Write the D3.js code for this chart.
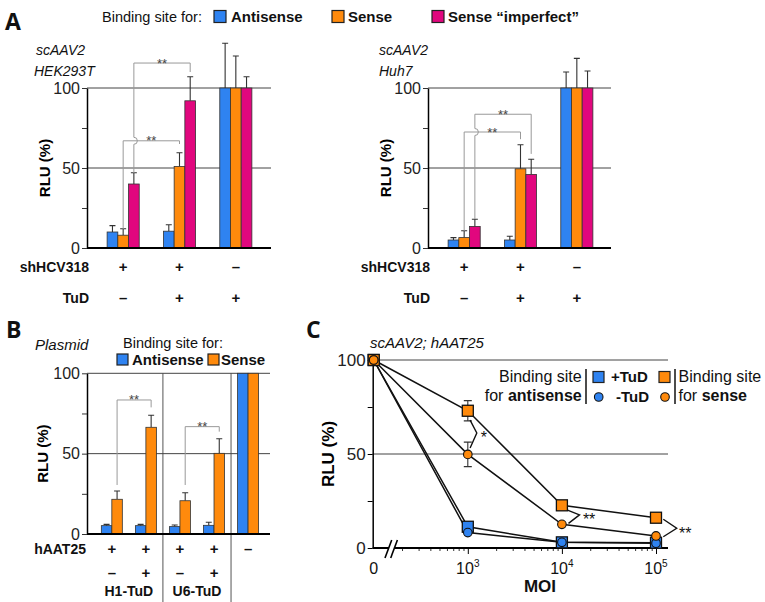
<!DOCTYPE html>
<html>
<head>
<meta charset="utf-8">
<script src="https://cdn.jsdelivr.net/npm/d3@7"></script>
<style>
  body { margin: 0; background: #fff; }
  svg { font-family: "Liberation Sans", Arial, sans-serif; }
</style>
</head>
<body>
<svg id="chart" width="765" height="602" font-family="Liberation Sans, Arial, sans-serif"></svg>
<script>
// ---------- data ----------
// panel A (scAAV2), three groups of three bars
const seriesA = ["Antisense", "Sense", "Sense \u201cimperfect\u201d"];
const groupsA = ["sh+ TuD-", "sh+ TuD+", "sh- TuD+"];
const shHCV318 = ["+", "+", "\u2013"];
const tudA = ["\u2013", "+", "+"];
const hekValues = [[10, 8, 40], [10.5, 51, 92], [100, 100, 100]];
const hekErrors = [[4, 4, 7], [4, 8.5, 15], [28, 20, 7]];
const huhValues = [[5, 6.5, 13.5], [5, 49.5, 46], [100, 100, 100]];
const huhErrors = [[1.5, 4.3, 4.5], [2.3, 15, 9.5], [10, 18.5, 10.6]];

// panel B (plasmid)
const seriesB = ["Antisense", "Sense"];
const groupsB = ["H1 -", "H1 +", "U6 -", "U6 +", "none"];
const hAAT25 = ["+", "+", "+", "+", "\u2013"];
const tudB = ["\u2013", "+", "\u2013", "+", ""];
const promoters = ["H1-TuD", "U6-TuD"];
const plasmidValues = [[5.2, 21.6], [5.2, 66.4], [4.6, 20.7], [5.4, 50.2], [100, 100]];
const plasmidErrors = [[0.8, 5.2], [0.8, 7.5], [1, 5], [1.9, 9.1], [0, 0]];

// panel C (MOI series)
const moi = [0, 1e3, 1e4, 1e5];
const antisensePlusTuD = [100, 11.3, 3, 2.8];
const antisenseMinusTuD = [100, 8.2, 3, 2.5];
const sensePlusTuD = [100, 73, 22.7, 16.1];
const senseMinusTuD = [100, 49.8, 12.6, 6.4];
const sensePlusErr = [0, 5.4, 0, 0];
const senseMinusErr = [0, 6.5, 0, 0];

const yTicks = [0, 25, 50, 75, 100];

// ---------- styles ----------
const blue = "#2f83f1", orange = "#ff8a0c", magenta = "#e1077e";
const barColors = [blue, orange, magenta];
const FONT = '"Liberation Sans", Arial, sans-serif';
const svg = d3.select("#chart");

function txt(x, y, s, opt = {}) {
  return svg.append("text").attr("x", x).attr("y", y).text(s)
    .attr("font-family", FONT)
    .attr("font-size", opt.size || 15)
    .attr("font-weight", opt.bold ? "bold" : null)
    .attr("font-style", opt.italic ? "italic" : null)
    .attr("text-anchor", opt.anchor || "start")
    .attr("fill", opt.fill || "#111");
}

function swatch(x, y, c, s = 12) {
  svg.append("rect").attr("x", x).attr("y", y).attr("width", s).attr("height", s)
    .attr("fill", c).attr("stroke", "#222").attr("stroke-width", 1.2);
}

// ---------- bar panels ----------
function barPanel(cfg) {
  const g = svg.append("g");
  const y = d3.scaleLinear().domain([0, 100]).range([cfg.y0, cfg.y1]);
  const x = d3.scaleBand().domain(cfg.groups).range(cfg.band);
  const n = cfg.series.length;
  const sub = d3.scaleBand().domain(cfg.series).range([-n * cfg.barW / 2, n * cfg.barW / 2]);
  const cx = gi => x(cfg.groups[gi]) + x.bandwidth() / 2;
  const sx = (gi, si) => cx(gi) + sub(cfg.series[si]) + sub.bandwidth() / 2;

  // separators (panel B)
  (cfg.separators || []).forEach(k => {
    const xs = cfg.band[0] + k * x.step();
    g.append("line").attr("x1", xs).attr("x2", xs).attr("y1", cfg.y1).attr("y2", 602)
      .attr("stroke", "#555").attr("stroke-width", 1);
  });

  g.selectAll(".grid").data([50, 100]).join("line")
    .attr("x1", cfg.xl).attr("x2", cfg.xr)
    .attr("y1", d => y(d)).attr("y2", d => y(d))
    .attr("stroke", "#444").attr("stroke-width", 1);

  const ya = g.append("g").attr("transform", `translate(${cfg.xl},0)`)
    .call(d3.axisLeft(y).tickValues(yTicks).tickSize(5).tickSizeOuter(0).tickPadding(2)
      .tickFormat(d => d % 50 ? "" : d));
  ya.select(".domain").attr("stroke", "#000").attr("stroke-width", 1.5);
  ya.selectAll(".tick line").attr("stroke", "#333");
  ya.selectAll("text").attr("font-size", 16).attr("fill", "#222").attr("font-family", FONT);

  const cells = cfg.values.flatMap((row, gi) => row.map((v, si) => ({ gi, si, v, e: cfg.errors[gi][si] })));

  // error bars (upper only)
  const eb = cells.filter(d => d.e > 0);
  g.selectAll(".err").data(eb).join("path")
    .attr("d", d => {
      const xc = sx(d.gi, d.si), yt = y(d.v + d.e);
      return `M${xc},${y(d.v)}V${yt}M${xc - 3},${yt}H${xc + 3}`;
    })
    .attr("stroke", "#333").attr("stroke-width", 1.1).attr("fill", "none");

  g.selectAll(".bar").data(cells).join("rect")
    .attr("x", d => cx(d.gi) + sub(cfg.series[d.si]))
    .attr("width", sub.bandwidth())
    .attr("y", d => y(d.v))
    .attr("height", d => cfg.y0 - y(d.v))
    .attr("fill", d => barColors[d.si])
    .attr("stroke", "#333").attr("stroke-width", 0.8);

  g.append("line").attr("x1", cfg.xl).attr("x2", cfg.xr).attr("y1", cfg.y0).attr("y2", cfg.y0)
    .attr("stroke", "#000").attr("stroke-width", 2);

  // significance brackets
  cfg.brackets.forEach(b => {
    const xa = sx(b.from, b.s), xb = sx(b.to, b.s), yt = y(b.top);
    let d = `M${xa},${y(b.a)}`;
    if (b.hop != null) {
      const yh = y(b.hop);
      d += `L${xa},${yh + 3.5}A3.5,3.5 0 0 0 ${xa},${yh - 3.5}`;
    }
    d += `L${xa},${yt}L${xb},${yt}L${xb},${y(b.b)}`;
    g.append("path").attr("d", d).attr("fill", "none").attr("stroke", "#999").attr("stroke-width", 1);
    g.append("text").attr("x", (xa + xb) / 2).attr("y", yt + 4.5).attr("text-anchor", "middle")
      .attr("font-family", FONT).attr("font-size", 13).attr("fill", "#444").text("**");
  });

  // rows under axis
  cfg.rows.forEach(r => {
    if (r.label) txt(cfg.labelX, r.y, r.label, { bold: true, anchor: "end", size: 14 });
    r.values.forEach((s, gi) => { if (s) txt(cx(gi), r.y, s, { bold: true, anchor: "middle", size: 15 }); });
  });
  (cfg.under || []).forEach((s, k) => {
    txt((cx(2 * k) + cx(2 * k + 1)) / 2, cfg.underY, s, { bold: true, anchor: "middle", size: 14 });
  });

  svg.append("text").attr("transform", `translate(${cfg.rluX},${(cfg.y0 + cfg.y1) / 2}) rotate(-90)`)
    .attr("font-family", FONT)
    .attr("text-anchor", "middle").attr("font-size", 15).attr("font-weight", "bold").text("RLU (%)");
}

// ---------- panel A ----------
txt(5, 30, "A", { bold: true, size: 23 }).attr("font-family", '"Open Sans", sans-serif');
txt(102, 22, "Binding site for:", { size: 14.5 });
swatch(214, 10.5, blue);
txt(231, 22, "Antisense", { bold: true });
swatch(332, 10.5, orange);
txt(348, 22, "Sense", { bold: true });
swatch(432, 10.5, magenta);
txt(448, 22, seriesA[2], { bold: true });

txt(36, 55, "scAAV2", { italic: true, size: 14 });
txt(34, 76, "HEK293T", { italic: true, size: 14 });
txt(379, 55, "scAAV2", { italic: true, size: 14 });
txt(379, 76, "Huh7", { italic: true, size: 14 });

barPanel({
  xl: 87, xr: 271, band: [95, 264], y0: 248, y1: 88, barW: 10.7,
  groups: groupsA, series: seriesA, values: hekValues, errors: hekErrors,
  brackets: [
    { s: 1, from: 0, to: 1, a: 12, top: 67, b: 65 },
    { s: 2, from: 0, to: 1, a: 47, top: 115.6, b: 110, hop: 67 }
  ],
  rows: [{ label: "shHCV318", values: shHCV318, y: 272 }, { label: "TuD", values: tudA, y: 303 }],
  labelX: 89, rluX: 50
});
barPanel({
  xl: 428, xr: 611, band: [436, 605], y0: 248, y1: 88, barW: 10.7,
  groups: groupsA, series: seriesA, values: huhValues, errors: huhErrors,
  brackets: [
    { s: 1, from: 0, to: 1, a: 10.8, top: 72.5, b: 68 },
    { s: 2, from: 0, to: 1, a: 18, top: 83.6, b: 58.8, hop: 72.5 }
  ],
  rows: [{ label: "shHCV318", values: shHCV318, y: 272 }, { label: "TuD", values: tudA, y: 303 }],
  labelX: 430, rluX: 391
});

// ---------- panel B ----------
txt(6, 338, "B", { bold: true, size: 23 }).attr("font-family", '"Open Sans", sans-serif');
txt(35, 350, "Plasmid", { italic: true, size: 15 });
txt(123, 348, "Binding site for:", { size: 14.5 });
swatch(117, 354, blue, 11);
txt(132, 365, "Antisense", { bold: true });
swatch(208, 354, orange, 11);
txt(221, 365, "Sense", { bold: true });

barPanel({
  xl: 87, xr: 270, band: [94.8, 265.1], y0: 534, y1: 373.3, barW: 10.5,
  groups: groupsB, series: seriesB, values: plasmidValues, errors: plasmidErrors,
  separators: [2, 4],
  brackets: [
    { s: 1, from: 0, to: 1, a: 30.5, top: 83.4, b: 78.8 },
    { s: 1, from: 2, to: 3, a: 30.5, top: 66.8, b: 63.7 }
  ],
  rows: [{ label: "hAAT25", values: hAAT25, y: 554 }, { label: null, values: tudB, y: 578 }],
  under: promoters, underY: 596,
  labelX: 86, rluX: 48
});

// ---------- panel C ----------
txt(306, 338, "C", { bold: true, size: 23 }).attr("font-family", '"Open Sans", sans-serif');
txt(370, 348, "scAAV2; hAAT25", { italic: true, size: 15 });

const xC = d3.scaleLog().domain([100, 1e5]).range([373.7, 656]);
const yC = d3.scaleLinear().domain([0, 100]).range([548, 360]);
const px = m => xC(m === 0 ? 100 : m);
const gC = svg.append("g");

gC.selectAll(".grid").data([50, 100]).join("line")
  .attr("x1", 372.7).attr("x2", 668).attr("y1", d => yC(d)).attr("y2", d => yC(d))
  .attr("stroke", "#444").attr("stroke-width", 1);

const yaC = gC.append("g").attr("transform", "translate(372.7,0)")
  .call(d3.axisLeft(yC).tickValues(yTicks).tickSize(5).tickSizeOuter(0).tickPadding(2)
    .tickFormat(d => d % 50 ? "" : d));
yaC.select(".domain").attr("stroke", "#000").attr("stroke-width", 1.5);
yaC.selectAll("text").attr("font-size", 17).attr("fill", "#222").attr("font-family", FONT);

const minorC = [1e2, 1e3, 1e4].flatMap(p => d3.range(2, 10).map(k => k * p));
const majorC = [1e3, 1e4, 1e5];
const xaMinor = gC.append("g").attr("transform", `translate(0,${yC(0)})`)
  .call(d3.axisBottom(xC).tickValues(minorC).tickSize(3).tickSizeOuter(0).tickFormat(""));
xaMinor.select(".domain").remove();
xaMinor.selectAll(".tick line").attr("stroke", "#333");
const xaMajor = gC.append("g").attr("transform", `translate(0,${yC(0)})`)
  .call(d3.axisBottom(xC).tickValues(majorC).tickSize(6).tickSizeOuter(0).tickFormat(""));
xaMajor.select(".domain").remove();
xaMajor.selectAll(".tick line").attr("stroke", "#000");
gC.append("line").attr("x1", 372.7).attr("x2", 668).attr("y1", yC(0)).attr("y2", yC(0))
  .attr("stroke", "#000").attr("stroke-width", 2);

// axis break
gC.append("rect").attr("x", 389).attr("y", yC(0) - 3).attr("width", 5).attr("height", 6).attr("fill", "#fff");
[[385, 391.7], [390.7, 397.4]].forEach(([a, b]) => {
  gC.append("line").attr("x1", a).attr("y1", 558).attr("x2", b).attr("y2", 540)
    .attr("stroke", "#000").attr("stroke-width", 1.6);
});

// x labels
txt(px(0), 574, "0", { anchor: "middle", size: 16 });
majorC.forEach(m => {
  const t = txt(xC(m), 574, "10", { anchor: "middle", size: 16 });
  t.append("tspan").attr("dy", -7).attr("font-size", 10).text(String(Math.log10(m)));
});
txt(540, 592, "MOI", { bold: true, anchor: "middle", size: 17 });
svg.append("text").attr("transform", `translate(334,${(yC(0) + yC(100)) / 2}) rotate(-90)`)
  .attr("font-family", FONT)
  .attr("text-anchor", "middle").attr("font-size", 17).attr("font-weight", "bold").text("RLU (%)");

const curves = [
  { vals: antisenseMinusTuD, err: null, color: blue, shape: "circle" },
  { vals: antisensePlusTuD, err: null, color: blue, shape: "square" },
  { vals: senseMinusTuD, err: senseMinusErr, color: orange, shape: "circle" },
  { vals: sensePlusTuD, err: sensePlusErr, color: orange, shape: "square" }
];
const line = d3.line().x(d => px(d.m)).y(d => yC(d.v));
curves.forEach(c => {
  const pts = moi.map((m, i) => ({ m, v: c.vals[i], e: c.err ? c.err[i] : 0 }));
  gC.append("path").datum(pts).attr("d", line).attr("fill", "none")
    .attr("stroke", "#111").attr("stroke-width", 1.5);
  c.pts = pts;
});
curves.forEach(c => {
  c.pts.filter(p => p.e > 0).forEach(p => {
    const xc = px(p.m), ya = yC(p.v + p.e), yb = yC(p.v - p.e);
    gC.append("path").attr("d", `M${xc},${ya}V${yb}M${xc - 4},${ya}H${xc + 4}M${xc - 4},${yb}H${xc + 4}`)
      .attr("stroke", "#333").attr("stroke-width", 1.1).attr("fill", "none");
  });
});
["square", "circle"].forEach(shape => {
  curves.filter(c => c.shape === shape).forEach(c => {
    if (shape === "square") {
      gC.selectAll(null).data(c.pts).join("rect")
        .attr("x", d => px(d.m) - 5.5).attr("y", d => yC(d.v) - 5.5)
        .attr("width", 11).attr("height", 11)
        .attr("fill", c.color).attr("stroke", "#111").attr("stroke-width", 1.3);
    } else {
      gC.selectAll(null).data(c.pts).join("circle")
        .attr("cx", d => px(d.m)).attr("cy", d => yC(d.v)).attr("r", 4.3)
        .attr("fill", c.color).attr("stroke", "#111").attr("stroke-width", 1.1);
    }
  });
});

// significance marks
const sigC = [
  { m: 1e3, pts: [[2.3, 68], [9, 61.2], [2.3, 53.2]], label: "*", lx: 13, ly: 59 },
  { m: 1e4, pts: [[5.6, 20.2], [17.6, 17.6], [6.6, 13.1]], label: "**", lx: 21, ly: 15.5 },
  { m: 1e5, pts: [[7.3, 15.3], [20.7, 10.5], [7.3, 6]], label: "**", lx: 23, ly: 8 }
];
sigC.forEach(s => {
  const xc = xC(s.m);
  gC.append("path").attr("d", d3.line()(s.pts.map(([dx, v]) => [xc + dx, yC(v)])))
    .attr("fill", "none").attr("stroke", "#111").attr("stroke-width", 1.4);
  gC.append("text").attr("x", xc + s.lx).attr("y", yC(s.ly) + 6).attr("font-family", FONT)
    .attr("font-size", 16).attr("fill", "#111").text(s.label);
});

// legend C
txt(581.7, 382, "Binding site", { anchor: "end", size: 16 });
const l2 = txt(581.7, 401, "for ", { anchor: "end", size: 16 });
l2.append("tspan").attr("font-weight", "bold").text("antisense");
[586, 675].forEach(xv => svg.append("line").attr("x1", xv).attr("x2", xv).attr("y1", 369).attr("y2", 404)
  .attr("stroke", "#111").attr("stroke-width", 1.5));
swatch(593, 371.5, blue, 11);
txt(611, 382, "+TuD", { bold: true, size: 15 });
swatch(659, 371.5, orange, 11);
svg.append("circle").attr("cx", 598.7).attr("cy", 397).attr("r", 4.3).attr("fill", blue)
  .attr("stroke", "#111").attr("stroke-width", 1.1);
txt(616, 402, "-TuD", { bold: true, size: 15 });
svg.append("circle").attr("cx", 665).attr("cy", 397).attr("r", 4.3).attr("fill", orange)
  .attr("stroke", "#111").attr("stroke-width", 1.1);
txt(678.5, 382, "Binding site", { size: 16 });
const l4 = txt(678.5, 401, "for ", { size: 16 });
l4.append("tspan").attr("font-weight", "bold").text("sense");
</script>
</body>
</html>
